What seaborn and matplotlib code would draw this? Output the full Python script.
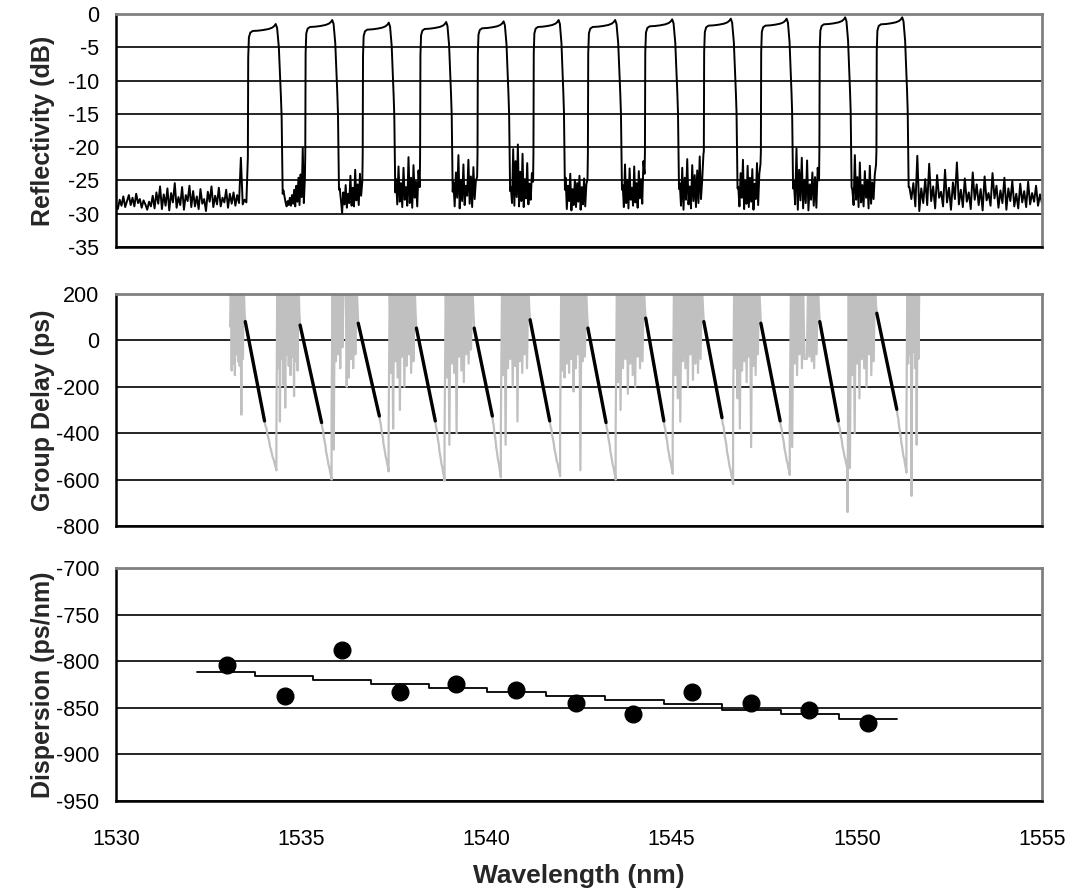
import numpy as np
import matplotlib
matplotlib.use("Agg")
import matplotlib.pyplot as plt
import seaborn as sns

sns.set_style("white")
plt.rcParams["font.family"] = ["Liberation Sans", "DejaVu Sans"]
plt.rcParams["axes.unicode_minus"] = False

# ---------------- reflectivity spectrum ----------------
ch_rise = [1533.56, 1535.11, 1536.66, 1538.21, 1539.76, 1541.27,
           1542.74, 1544.28, 1545.87, 1547.41, 1548.99, 1550.53]
ch_fall = [1534.50, 1536.02, 1537.54, 1539.09, 1540.64, 1542.12,
           1543.66, 1545.20, 1546.78, 1548.28, 1549.86, 1551.40]
ch_peak = [-1.5, -0.9, -1.3, -1.2, -1.1, -0.9, -0.9, -0.8, -0.7, -0.7, -0.5, -0.5]

# plateau shape across each channel (fraction of width, dB relative to peak)
plateau_frac = [0.00, 0.01, 0.03, 0.07, 0.14, 0.30, 0.45, 0.60, 0.70, 0.76, 0.80, 0.84, 0.89, 0.95, 0.97, 1.00]
plateau_rel = [-20.0, -5.0, -2.0, -1.3, -1.05, -1.0, -0.9, -0.75, -0.55, -0.3, 0.0, -0.6, -3.5, -11.0, -14.0, -25.5]

floor_left = [
    -28.6, -29.3, -27.9, -28.8, -27.4, -29.0, -28.1, -27.2, -28.7, -27.6,
    -28.9, -27.0, -28.4, -27.8, -29.1, -28.0, -28.6, -29.4, -28.2, -28.9,
    -27.3, -29.2, -26.8, -28.5, -25.9, -29.3, -27.1, -28.8, -26.2, -29.5,
    -26.9, -28.3, -25.4, -29.1, -27.5, -28.7, -26.0, -29.4, -27.2, -28.1,
    -25.8, -29.0, -26.6, -28.9, -27.4, -29.3, -26.3, -28.5, -27.8, -29.6,
    -26.7, -28.2, -25.9, -29.0, -27.3, -28.6, -26.1, -28.9, -27.6, -28.3,
    -26.4, -29.1, -27.0, -28.5, -26.8, -28.8, -27.2, -28.4, -21.6, -28.6,
    -27.9, -28.3]

floor_right = [
    -26.0, -27.8, -25.4, -28.9, -21.3, -29.6, -26.2, -28.4, -24.8, -28.7,
    -22.5, -28.1, -25.9, -29.2, -24.2, -27.6, -26.7, -28.9, -23.4, -28.3,
    -26.1, -29.4, -25.3, -27.8, -22.3, -28.6, -26.4, -29.0, -24.7, -28.2,
    -26.8, -29.3, -23.8, -27.9, -25.6, -28.7, -26.3, -29.5, -24.4, -28.0,
    -26.9, -28.8, -23.9, -27.7, -25.8, -29.1, -26.5, -28.4, -24.6, -29.4,
    -26.2, -28.1, -25.1, -28.9, -27.0, -29.2, -25.5, -28.3, -26.6, -29.0,
    -25.2, -28.6, -26.9, -28.2, -25.8, -28.8, -27.1, -28.4]

gap_noise = [
    [-26.5, -27.4, -28.3, -28.9, -28.1, -28.7, -27.6, -28.8, -27.2, -28.5, -26.4,
     -28.9, -25.8, -28.2, -24.6, -28.7, -24.1, -27.5, -20.1, -28.4, -24.6],
    [-26.2, -27.9, -29.9, -26.8, -28.6, -25.7, -29.1, -27.0, -28.4, -24.3, -28.8,
     -26.1, -28.9, -23.4, -28.0, -25.6, -28.7, -24.0, -27.3, -25.1],
    [-24.8, -28.6, -22.9, -28.2, -25.4, -29.0, -23.1, -27.9, -26.0, -28.8, -21.5,
     -28.4, -24.6, -29.1, -22.7, -27.6, -25.2, -28.9, -23.5, -26.0],
    [-25.3, -28.9, -23.8, -27.6, -21.2, -29.2, -24.9, -28.1, -22.6, -28.7, -25.8,
     -27.3, -21.9, -28.5, -24.4, -29.0, -23.0, -27.8, -25.0, -24.5],
    [-26.0, -28.4, -20.3, -28.8, -22.1, -27.5, -19.6, -28.9, -23.7, -28.1, -21.0,
     -29.0, -24.8, -27.7, -22.4, -28.6, -25.5, -27.9, -23.9, -25.2],
    [-24.6, -29.3, -25.8, -28.1, -24.0, -29.5, -26.3, -28.7, -24.9, -29.0, -25.4,
     -28.2, -24.3, -29.4, -26.0, -28.6, -24.7, -28.9, -25.6, -24.8],
    [-25.7, -29.0, -22.6, -28.4, -24.9, -29.2, -23.2, -27.9, -26.1, -28.8, -22.9,
     -28.3, -25.4, -29.1, -23.6, -27.7, -24.8, -28.5, -22.1, -24.0],
    [-25.4, -28.8, -23.1, -29.4, -24.6, -27.9, -21.8, -28.6, -25.9, -29.2, -22.7,
     -28.1, -24.2, -29.0, -23.5, -28.4, -21.4, -27.8, -24.9, -21.0],
    [-26.0, -28.9, -23.9, -27.6, -21.9, -29.3, -25.1, -28.5, -22.8, -29.0, -24.6,
     -28.2, -23.3, -29.4, -25.5, -27.8, -22.4, -28.7, -24.0, -22.5],
    [-25.1, -28.6, -20.2, -29.4, -23.4, -28.0, -21.6, -29.2, -24.9, -28.4, -22.0,
     -29.5, -25.6, -27.9, -23.8, -28.8, -24.5, -29.1, -23.1, -25.0],
    [-26.4, -28.7, -21.2, -27.9, -24.5, -29.0, -22.3, -28.3, -25.7, -28.9, -23.6,
     -27.6, -24.9, -29.2, -22.8, -28.5, -25.3, -27.8, -24.1, -22.6],
]

# ---------------- group delay (black fitted part + grey raw trace) ----------------
gd_start_nm = [1533.49, 1534.97, 1536.54, 1538.11, 1539.67, 1541.18,
               1542.74, 1544.30, 1545.87, 1547.41, 1549.00, 1550.54]
gd_end_nm = [1534.01, 1535.55, 1537.11, 1538.62, 1540.16, 1541.71,
             1543.23, 1544.79, 1546.36, 1547.93, 1549.50, 1551.08]
gd_top = [81, 66, 74, 53, 53, 89, 53, 96, 81, 74, 81, 117]
gd_bottom = [-347, -354, -326, -347, -326, -347, -354, -347, -333, -347, -347, -297]
tail_end_nm = [1534.33, 1535.82, 1537.36, 1538.87, 1540.39, 1541.99,
               1543.49, 1545.03, 1546.66, 1548.19, 1549.75, 1551.34]
tail_min = [-560, -600, -565, -605, -590, -585, -600, -575, -620, -580, -560, -570]
tail_profile = [0.0, 0.1, 0.14, 0.26, 0.33, 0.4, 0.52, 0.58, 0.66, 0.74, 0.78, 0.86, 0.92, 1.0]
gd_first_nm = 1533.08
gd_last_nm = 1551.71

gd_noise = [
    [60, 250, -130, 240, -100, 260, -150, 250, -60, 240, -90, 250, -110, 240, -320, 230, -80, 250, 120],
    [-420, 250, -120, 260, -350, 240, -80, 250, -190, 260, -290, 270, -60, 250, -110, 240,
     -150, 260, -70, 240, -240, 250, -90, 230, -130, 250, 120],
    [-300, 250, -470, 240, -90, 250, -60, 260, -120, 250, -30, 240, 210, 260, -200, 240,
     -160, 250, -80, 240, -120, 230, -60, 250, 140],
    [-400, 250, -140, 260, -380, 240, -90, 250, -160, 260, -300, 270, -70, 240, -200, 240,
     -110, 250, -60, 240, -140, 230, -90, 250, 110],
    [-420, 250, -160, 240, -450, 260, -100, 250, -140, 240, -400, 240, -70, 260, -130, 250,
     -180, 240, -60, 250, -100, 230, -40, 250, 120],
    [-380, 250, -150, 260, -450, 240, -120, 250, -80, 260, -200, 270, -110, 250, -350, 240,
     -90, 250, -140, 240, -60, 230, -120, 250, 130],
    [-400, 250, -130, 240, -160, 260, -100, 250, -140, 240, -80, 260, -220, 240, -120, 250,
     -60, 240, -560, 250, -90, 240, -70, 230, 110],
    [-370, 250, -180, 260, -300, 240, -120, 250, -80, 260, -230, 270, -100, 240, -150, 250,
     -200, 240, -70, 250, -120, 230, -90, 250, 140],
    [-420, 250, -150, 260, -250, 240, -350, 250, -90, 240, -120, 260, -200, 250, -60, 240,
     -170, 250, -100, 240, -140, 230, -80, 250, 130],
    [-300, 250, -120, 240, -250, 260, -380, 250, -130, 240, -90, 250, -180, 260, -70, 240,
     -460, 250, -110, 240, -150, 230, -60, 250, 140],
    [-380, 250, -460, 240, -100, 260, -150, 250, -60, 240, -120, 250, -80, -80, -80, 240,
     -70, 250, -90, 240, -120, 230, -60, 250, 130],
    [-740, 250, -550, 240, -150, 260, -400, 250, -100, 240, -250, 260, -80, 240, -120, 250,
     -200, 240, -60, 250, -150, 230, -90, 250, 150],
    [-350, 250, -100, 240, -60, 250, -670, 260, -50, 250, -120, 240, -450, 250, -80, 240, 250],
]

# ---------------- dispersion ----------------
disp_nm = [1532.99, 1534.55, 1536.11, 1537.66, 1539.19, 1540.79,
           1542.42, 1543.97, 1545.56, 1547.15, 1548.71, 1550.30]
disp_val = [-803.6, -837.0, -788.0, -833.0, -824.4, -831.0,
            -844.4, -857.0, -832.7, -844.7, -852.7, -865.8]
fit_edges = [1532.20, 1533.76, 1535.32, 1536.89, 1538.46, 1540.02, 1541.62,
             1543.21, 1544.79, 1546.36, 1547.95, 1549.51, 1551.09]
fit_vals = [-811.3, -816.0, -820.0, -824.7, -828.4, -833.0,
            -837.5, -841.7, -846.2, -852.6, -857.0, -861.8]


def build_reflectivity():
    xs = list(np.linspace(1530.0, ch_rise[0] - 0.04, len(floor_left)))
    ys = list(floor_left)
    for k in range(len(ch_rise)):
        span = ch_fall[k] - ch_rise[k]
        xs += [ch_rise[k] + f * span for f in plateau_frac]
        ys += [ch_peak[k] + r for r in plateau_rel]
        if k < len(gap_noise):
            gap = gap_noise[k]
            xs += list(np.linspace(ch_fall[k] + 0.02, ch_rise[k + 1] - 0.01, len(gap)))
            ys += gap
    xs += list(np.linspace(ch_fall[-1] + 0.02, 1555.0, len(floor_right)))
    ys += floor_right
    return np.array(xs), np.array(ys)


def build_group_delay():
    xs, ys = [], []
    for k in range(len(gd_start_nm)):
        b_start = gd_first_nm if k == 0 else tail_end_nm[k - 1]
        block = gd_noise[k]
        xs += list(np.linspace(b_start, gd_start_nm[k] - 0.02, len(block)))
        ys += block
        xs += [gd_start_nm[k], gd_end_nm[k]]
        ys += [gd_top[k], gd_bottom[k]]
        span = tail_end_nm[k] - gd_end_nm[k]
        xs += [gd_end_nm[k] + span * i / (len(tail_profile) - 1) for i in range(len(tail_profile))]
        ys += [gd_bottom[k] + p * (tail_min[k] - gd_bottom[k]) for p in tail_profile]
    block = gd_noise[-1]
    xs += list(np.linspace(tail_end_nm[-1], gd_last_nm, len(block)))
    ys += block
    return np.array(xs), np.array(ys)


refl_x, refl_y = build_reflectivity()
gd_x, gd_y = build_group_delay()

fig = plt.figure(figsize=(10.74, 8.96), dpi=100)
left, width = 116 / 1074, 926 / 1074
rects = [(247, 233), (526, 232), (801, 233)]
axes = [fig.add_axes([left, 1 - b / 896, width, h / 896]) for b, h in rects]
ax1, ax2, ax3 = axes

# top: reflectivity
sns.lineplot(x=refl_x, y=refl_y, ax=ax1, color="black", lw=1.4, sort=False, estimator=None)
ax1.set_ylim(-35, 0)
ax1.set_yticks(np.arange(-35, 1, 5))
ax1.set_ylabel("Reflectivity (dB)")

# middle: group delay
sns.lineplot(x=gd_x, y=gd_y, ax=ax2, color="#c0c0c0", lw=1.6, sort=False, estimator=None)
for k in range(len(gd_start_nm)):
    sns.lineplot(x=[gd_start_nm[k], gd_end_nm[k]], y=[gd_top[k], gd_bottom[k]],
                 ax=ax2, color="black", lw=2.4, sort=False, estimator=None)
ax2.set_ylim(-800, 200)
ax2.set_yticks(np.arange(-800, 201, 200))
ax2.set_ylabel("Group Delay (ps)")

# bottom: dispersion
sns.lineplot(x=fit_edges, y=fit_vals + [fit_vals[-1]], ax=ax3, color="black", lw=1.3,
             drawstyle="steps-post", sort=False, estimator=None)
sns.scatterplot(x=disp_nm, y=disp_val, ax=ax3, color="black", s=145, edgecolor="black", zorder=5)
ax3.set_ylim(-950, -700)
ax3.set_yticks(np.arange(-950, -699, 50))
ax3.set_ylabel("Dispersion (ps/nm)")
ax3.set_xlabel("Wavelength (nm)", fontsize=19, fontweight="bold")
ax3.xaxis.set_label_coords(0.5, -0.27)

for i, ax in enumerate(axes):
    ax.set_xlim(1530, 1555)
    ax.set_xticks(np.arange(1530, 1556, 5))
    ax.yaxis.grid(True, color="black", lw=1.2)
    ax.xaxis.grid(False)
    ax.tick_params(axis="both", direction="in", length=9, width=1.2, color="black",
                   labelsize=15.5, labelcolor="black")
    ax.tick_params(axis="x", pad=20, labelbottom=(i == 2))
    ax.tick_params(axis="y", pad=12)
    for side in ["left", "bottom"]:
        ax.spines[side].set_color("black")
        ax.spines[side].set_linewidth(1.8)
    for side in ["top", "right"]:
        ax.spines[side].set_color("#808080")
        ax.spines[side].set_linewidth(2.0)
    ax.yaxis.label.set_fontsize(18)
    ax.yaxis.label.set_fontweight("bold")
    ax.yaxis.set_label_coords(-0.066, 0.5)

fig.savefig("out.png", dpi=100)
plt.close(fig)
